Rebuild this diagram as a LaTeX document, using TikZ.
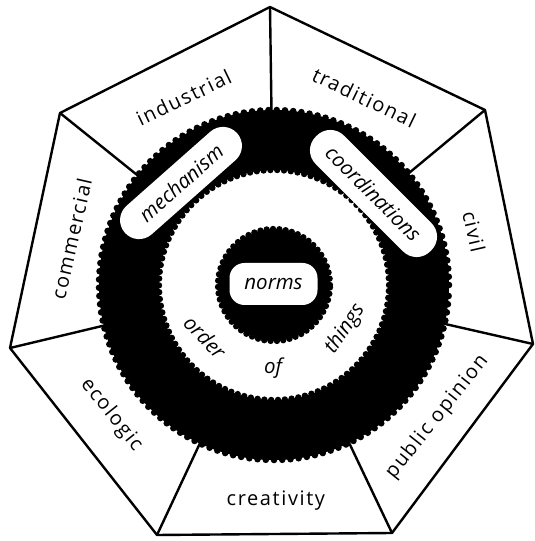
\documentclass[tikz,border=0pt]{standalone}
\usepackage{fontspec}
\setmainfont{Open Sans}
\newfontfamily\lblfam[LetterSpace=8]{Open Sans}
\newfontfamily\innfam{Open Sans}
\newcommand\lblfont{\lblfam\fontsize{20}{24}\selectfont}
\newcommand\innfont{\innfam\itshape\fontsize{20.5}{24}\selectfont}
\usetikzlibrary{calc}
\tikzset{
  seg/.style={line width=2.4pt, line join=round},
  lbl/.style={font=\lblfont, inner sep=0pt},
  inn/.style={font=\innfont, inner sep=0pt},
  pill/.style={fill=white, rounded corners=19pt, inner sep=0pt, font=\innfont}
}
\begin{document}
\begin{tikzpicture}[x=1pt,y=1pt]
\useasboundingbox (0,0) rectangle (535,541);
% centre and vertices
\coordinate (C) at (274,256);
\coordinate (v1) at (270,534);
\coordinate (v2) at (485,431);
\coordinate (v3) at (533,197);
\coordinate (v4) at (392,8);
\coordinate (v5) at (157,6);
\coordinate (v6) at (10,193);
\coordinate (v7) at (60,428);
% heptagon
\fill[white] (v1)--(v2)--(v3)--(v4)--(v5)--(v6)--(v7)--cycle;
\foreach \v in {v1,v2,v3,v4,v5,v6,v7}
  \draw[seg] (\v) -- ($(C)!0.5!(\v)$);
\draw[seg] (v1)--(v2)--(v3)--(v4)--(v5)--(v6)--(v7)--cycle;
% black ring with scalloped edges
\fill[black] (C) circle (175pt);
\foreach \a in {0,2.7,...,359}
  \fill[black,shift={(C)}] (\a:175) circle (3.3pt);
\fill[white] (C) circle (115pt);
\foreach \a in {0,3.4,...,359}
  \fill[black,shift={(C)}] (\a:115) circle (3.2pt);
% inner black disc
\fill[black] (C) circle (56pt);
\foreach \a in {0,6.5,...,359}
  \fill[black,shift={(C)}] (\a:56) circle (3.2pt);
% white pills
\node[pill, minimum width=150pt, minimum height=38pt, rotate=41.5] (mech) at (181,358) {mechanism};
\node[pill, minimum width=162pt, minimum height=40pt, rotate=-45] (coord) at (373.5,347.5) {coordinations};
\node[pill, rounded corners=15pt, minimum width=88pt, minimum height=42pt] (norms) at (273.5,257) {norms};
% order of things
\node[inn, rotate=-46] (order) at (205,204) {order};
\node[inn] (of) at (273,173) {of};
\node[inn, rotate=56] (things) at (345,212) {things};
% segment labels
\node[lbl, rotate=25.7] (industrial) at ($(C)+(115.7:208)$) {industrial};
\node[lbl, rotate=-25.7] (traditional) at ($(C)+(64.3:208)$) {traditional};
\node[lbl, rotate=-77.1] (civil) at ($(C)+(15:207)$) {civil};
\node[lbl, rotate=51.4] (public) at ($(C)+(-39:210)$) {public opinion};
\node[lbl] (creativity) at ($(C)+(-89.5:216)$) {creativity};
\node[lbl, rotate=-51.4] (ecologic) at ($(C)+(-141.4:208)$) {ecologic};
\node[lbl, rotate=77.1] (commercial) at ($(C)+(167.1:208)$) {commercial};
\end{tikzpicture}
\end{document}
